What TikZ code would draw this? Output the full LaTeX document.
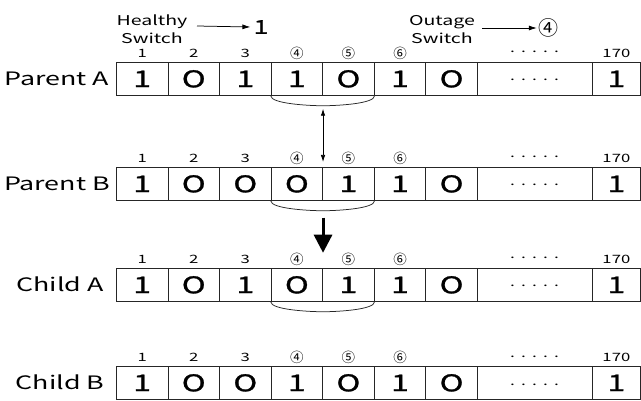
\documentclass[tikz,border=0pt]{standalone}
\usepackage{fontspec}
\setmainfont{Noto Sans CJK JP}[FakeStretch=1.45]
\newfontfamily\cellfont{Noto Sans CJK JP}[FakeStretch=1.4,FakeBold=1.3]
\newfontfamily\circfont{Noto Sans CJK JP}
\usetikzlibrary{arrows.meta}
\newcommand\fivedots{.\hspace{6.2pt}.\hspace{6.2pt}.\hspace{6.2pt}.\hspace{6.2pt}.}
\begin{document}
\begin{tikzpicture}[x=1pt,y=-1pt,
  cell/.style={draw=black!85, line width=0.75pt, minimum height=33pt, inner sep=0pt, anchor=north west, font=\cellfont\fontsize{23}{23}\selectfont},
  colnum/.style={font=\fontsize{11.5}{11.5}\selectfont, inner sep=0pt},
  circnum/.style={font=\circfont\fontsize{13.5}{13.5}\selectfont, inner sep=0pt},
  dotlab/.style={font=\fontsize{12}{12}\selectfont, inner sep=0pt, anchor=base},
  rowlab/.style={font=\fontsize{18.5}{19}\selectfont, inner sep=0pt},
  hdr/.style={font=\fontsize{13.5}{18}\selectfont, align=center, inner sep=0pt},
  big/.style={font=\cellfont\fontsize{19}{19}\selectfont, inner sep=0pt},
  bigcirc/.style={font=\circfont\fontsize{20}{20}\selectfont, inner sep=0pt},
  brk/.style={draw=black!85, line width=0.75pt},
  thinarrow/.style={draw=black, line width=0.75pt, {Latex[length=7pt,width=4.5pt]}-{Latex[length=7pt,width=4.5pt]}},
  bigarrow/.style={draw=black, line width=3pt, -{Triangle[length=18pt,width=18pt]}},
  hdrarrow/.style={draw=black, line width=0.75pt, -{Latex[length=8pt,width=5pt]}},
]
\useasboundingbox (0,0) rectangle (641,401);

% generic row: #1 name, #2 top y, #3 label, #4 label x, #5 bits
\newcommand\generow[5]{%
  \node[rowlab] (#1lab) at (#4,#2+16.5) {#3};
  \foreach \b [count=\i] in {#5} {
    \pgfmathsetmacro\xl{116+(\i-1)*51.571}
    \node[cell, minimum width=51.571pt] (#1c\i) at (\xl,#2) {\b};
  }
  \node[cell, minimum width=115pt] (#1c8) at (477,#2) {};
  \node[dotlab] (#1d) at (534.5,#2+19) {\fivedots};
  \node[cell, minimum width=48pt] (#1c9) at (592,#2) {1};
  \node[colnum] (#1n1) at (#1c1.north |- 0,#2-8.5) {1};
  \node[colnum] (#1n2) at (#1c2.north |- 0,#2-8.5) {2};
  \node[colnum] (#1n3) at (#1c3.north |- 0,#2-8.5) {3};
  \node[circnum] (#1n4) at (#1c4.north |- 0,#2-8.5) {④};
  \node[circnum] (#1n5) at (#1c5.north |- 0,#2-8.5) {⑤};
  \node[circnum] (#1n6) at (#1c6.north |- 0,#2-8.5) {⑥};
  \node[dotlab] (#1nd) at (534.5,#2-9) {\fivedots};
  \node[colnum] (#1n9) at (#1c9.north |- 0,#2-8.5) {170};
}
\newcommand\bracketunder[1]{%
  \draw[brk] (#1c4.south west) .. controls ++(0,8) and ++(-14,0) .. ([yshift=-10pt]#1c4.south east)
     .. controls ++(14,0) and ++(0,8) .. (#1c5.south east);
}

% headers
\node[hdr] (hh) at (152,29) {Healthy\\Switch};
\node[big] (h1) at (261,27) {1};
\draw[hdrarrow] (197,26) -- ([xshift=-3pt]h1.west);
\node[hdr] (oh) at (442,30) {Outage\\Switch};
\node[bigcirc] (o4) at (548,28) {④};
\draw[hdrarrow] (482,28) -- ([xshift=-1pt]o4.west);

\generow{A}{62}{Parent A}{57}{1,O,1,1,O,1,O}
\generow{B}{167}{Parent B}{57}{1,O,O,O,1,1,O}
\generow{C}{268}{Child A}{60}{1,O,1,O,1,1,O}
\generow{D}{366}{Child B}{60}{1,O,O,1,O,1,O}

\bracketunder{A}
\bracketunder{B}
\bracketunder{C}

\coordinate (brA) at ([yshift=-13pt]Ac4.south east);
\coordinate (tgB) at ([yshift=5pt]Bc4.north east);
\draw[thinarrow] (brA) -- (tgB);
\coordinate (bigS) at ([yshift=-17pt]Bc4.south east);
\coordinate (bigE) at ([yshift=-52pt]Bc4.south east);
\draw[bigarrow] (bigS) -- (bigE);
\end{tikzpicture}
\end{document}
